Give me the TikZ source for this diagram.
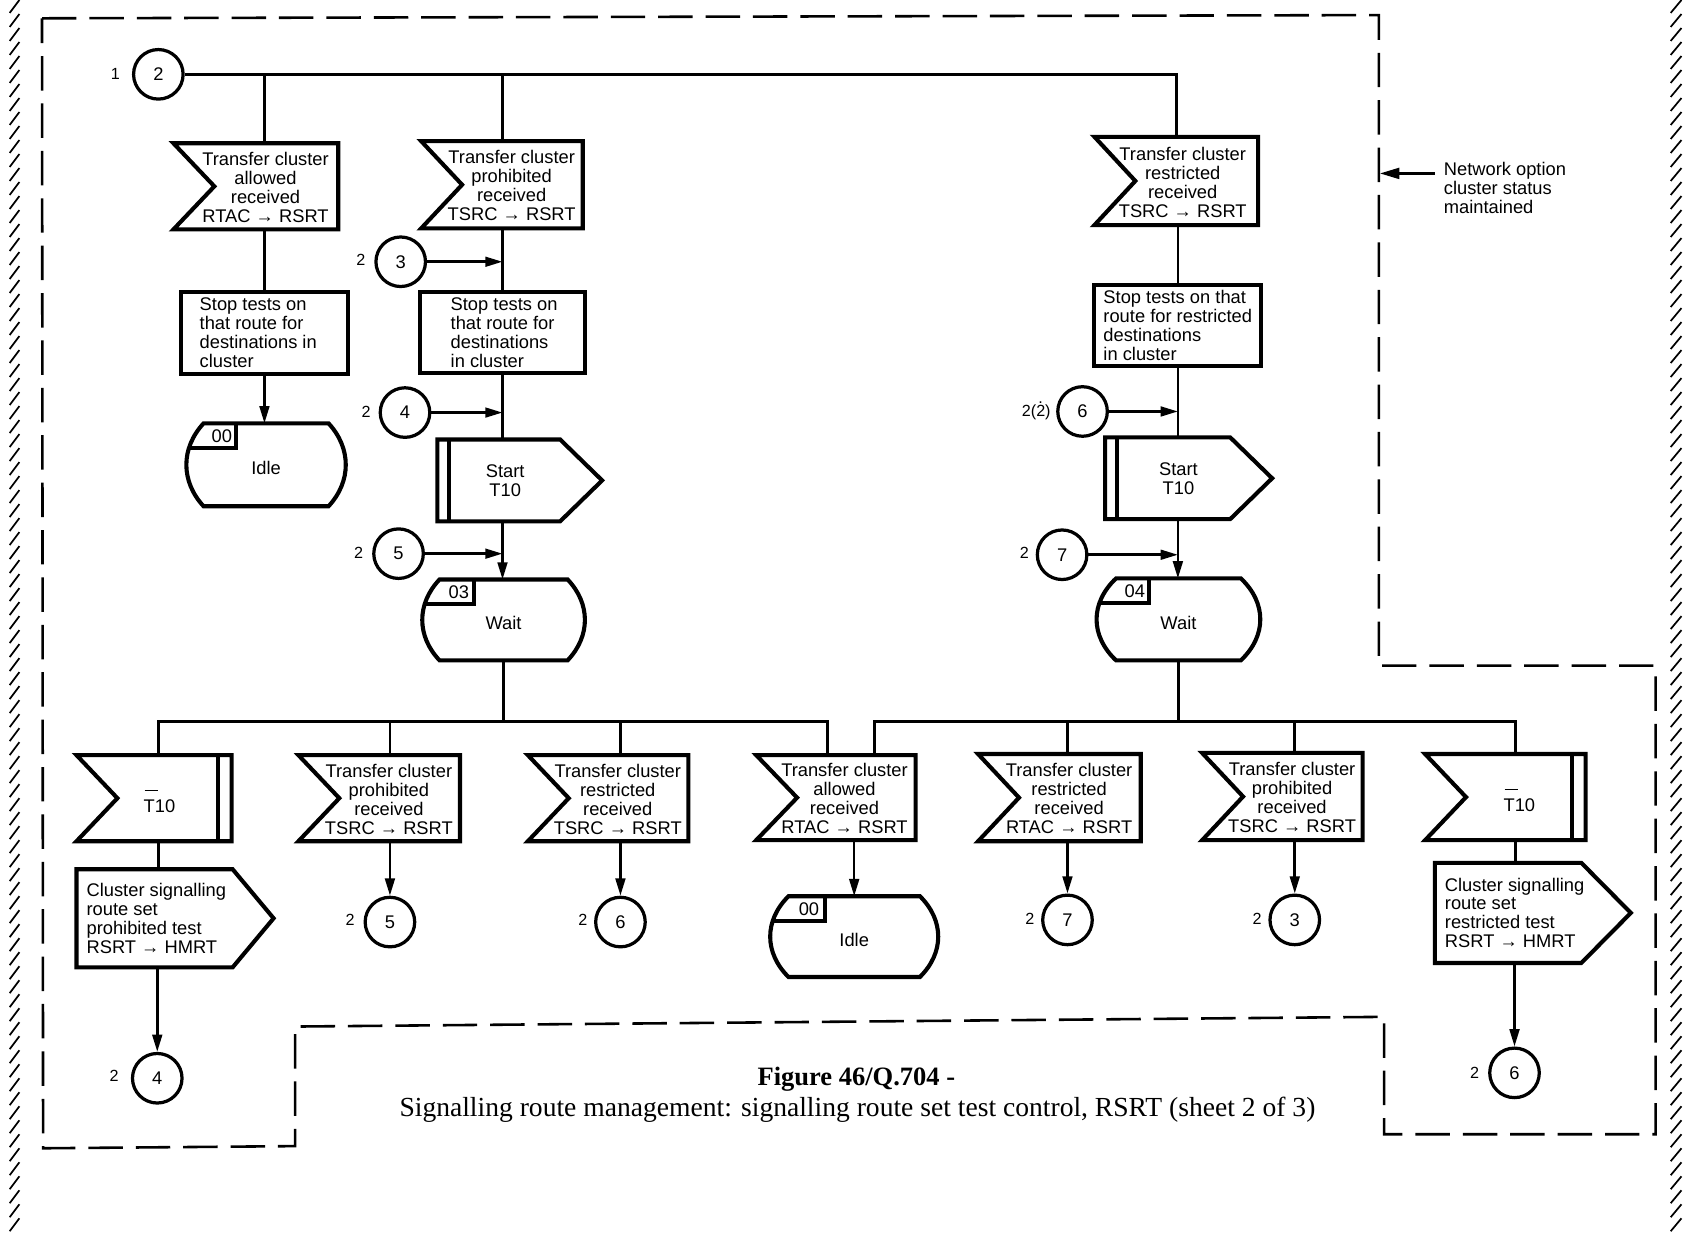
\documentclass[tikz,border=0pt]{standalone}
\usepackage{fontspec}
\setmainfont{Liberation Sans}
\newfontfamily\capfont{Liberation Serif}
\usetikzlibrary{calc,fit,arrows.meta}

\tikzset{
  shp/.style={line width=1.9pt, line join=miter},
  ln/.style={line width=1.2pt},
  arr/.style={line width=1.2pt, -{Triangle[length=8pt,width=4.5pt]}},
  box/.style={inner sep=0pt, outer sep=0pt, draw=none},
  txt/.style={font=\fontsize{8.5}{8.8}\selectfont, inner sep=0pt, align=center},
  txtl/.style={font=\fontsize{8.5}{8.8}\selectfont, inner sep=0pt, align=left, anchor=west},
  conn/.style={circle, draw, line width=1.5pt, minimum size=23pt, inner sep=0pt, font=\fontsize{8.5}{10}\selectfont},
  clbl/.style={font=\fontsize{7.5}{9}\selectfont, inner sep=0pt},
  bound/.style={line width=1.2pt, dash pattern=on 16pt off 6pt},
  hatch/.style={line width=0.8pt},
}

\newcommand{\tbar}{\rlap{\kern0.05em\raisebox{10pt}{\rule{0.75em}{0.7pt}}}}

% input signal: name x1 y1 x2 y2 textoffset text
\newcommand{\InSig}[7]{%
  \node[box, fit={(#2,#3) (#4,#5)}] (#1) {};
  \draw[shp] (#2,#3) -- (#4,#3) -- (#4,#5) -- (#2,#5) -- ($(#1.west)+(38,0)$) -- cycle;
  \node[txt] (#1-t) at ($(#1.center)+(#6,1)$) {#7};
}
% timer expiry input: name x1 y1 x2 y2 textoffset
\newcommand{\InTimer}[6]{%
  \node[box, fit={(#2,#3) (#4,#5)}] (#1) {};
  \draw[shp] (#2,#3) -- (#4,#3) -- (#4,#5) -- (#2,#5) -- ($(#1.west)+(38,0)$) -- cycle;
  \draw[shp] ({#4-13},#3) -- ({#4-13},#5);
  \node[txt] (#1-t) at ($(#1.center)+(#6,3)$) {\tbar T10};
}
% output signal: name x1 y1 x2 y2 pointx text
\newcommand{\OutSig}[7]{%
  \node[box, fit={(#2,#3) (#6,#5)}] (#1) {};
  \draw[shp] (#2,#3) -- (#4,#3) -- (#6,{(#3+#5)/2}) -- (#4,#5) -- (#2,#5) -- cycle;
  \node[txtl] (#1-t) at ({#2+9},{(#3+#5)/2}) {#7};
}
% timer start output: name x1 y1 x2 y2 pointx textx
\newcommand{\OutStart}[7]{%
  \node[box, fit={(#2,#3) (#6,#5)}] (#1) {};
  \draw[shp] (#2,#3) -- (#4,#3) -- (#6,{(#3+#5)/2}) -- (#4,#5) -- (#2,#5) -- cycle;
  \draw[shp] ({#2+11},#3) -- ({#2+11},#5);
  \node[txt] (#1-t) at (#7,{(#3+#5)/2}) {Start\\T10};
}
% task: name x1 y1 x2 y2 textx text
\newcommand{\TaskBox}[7]{%
  \node[box, fit={(#2,#3) (#4,#5)}] (#1) {};
  \draw[shp] (#2,#3) rectangle (#4,#5);
  \node[txtl] (#1-t) at (#6,{(#3+#5)/2}) {#7};
}
\newcommand{\StPath}[5]{(#1,#2) -- (#3,#2) .. controls ({#3+4*#5/3},{#2+0.3*(#4-#2)}) and ({#3+4*#5/3},{#4-0.3*(#4-#2)}) .. (#3,#4) -- (#1,#4) .. controls ({#1-4*#5/3},{#4-0.3*(#4-#2)}) and ({#1-4*#5/3},{#2+0.3*(#4-#2)}) .. (#1,#2) -- cycle}
% state: name x1 y1 x2 y2 bulge lblx lbl text
\newcommand{\StateBox}[9]{%
  \node[box, fit={({#2-#6},#3) ({#4+#6},#5)}] (#1) {};
  \begin{scope}
    \clip \StPath{#2}{#3}{#4}{#5}{#6};
    \draw[shp] (#7,#3) -- (#7,{#3+23}) -- ({#2-2*#6},{#3+23});
  \end{scope}
  \draw[shp] \StPath{#2}{#3}{#4}{#5}{#6};
  \node[txt] (#1-l) at ({(#2+#7)/2+2},{#3+12}) {#8};
  \node[txt] (#1-t) at ({(#2+#4)/2},{(#3+#5)/2+3}) {#9};
}

\begin{document}
\begin{tikzpicture}[x=0.5pt,y=-0.5pt]
\useasboundingbox (0,0) rectangle (1568,1145);

% page-edge hatching
\foreach \y in {0,13,...,1140} {
  \draw[hatch] (18,\y) -- (9,\y+12);
  \draw[hatch] (1561,\y) -- (1551,\y+12);
}

% dashed boundary
\draw[bound] (39,17) -- (1280,14) -- (1280,618) -- (1537,618) -- (1537,1053) -- (1285,1053) -- (1285,944) -- (274,953) -- (274,1064) -- (40,1066) -- cycle;

% note
\node[txtl, anchor=north west] (note) at (1340,150) {Network option\\cluster status\\maintained};
\coordinate (optTail) at (1332,161);
\coordinate (optHead) at (1281,161);
\draw[arr, -{Triangle[length=9pt,width=5pt]}] (optTail) -- (optHead);

% ---------- top part ----------
\node[conn] (c2top) at (147,69) {2};
\node[clbl] (c2topl) at (107,69) {1};

\InSig{inA}{161}{133}{314}{213}{9}{Transfer cluster\\allowed\\received\\RTAC → RSRT}
\InSig{inB}{391}{131}{541}{212}{9}{Transfer cluster\\prohibited\\received\\TSRC → RSRT}
\InSig{inC}{1016}{127}{1168}{209}{6}{Transfer cluster\\restricted\\received\\TSRC → RSRT}

\TaskBox{taskA}{168}{271}{323}{347}{185}{Stop tests on\\that route for\\destinations in\\cluster}
\TaskBox{taskB}{390}{271}{543}{346}{418}{Stop tests on\\that route for\\destinations\\in cluster}
\TaskBox{taskC}{1016}{265}{1171}{340}{1024}{Stop tests on that\\route for restricted\\destinations\\in cluster}

\StateBox{stateA}{189}{393}{305}{470}{16}{219}{00}{Idle}

\node[conn] (c3) at (372,243) {3};
\node[clbl] (c3l) at (335,241) {2};
\node[conn] (c4) at (376,383) {4};
\node[clbl] (c4l) at (340,382) {2};
\node[conn] (c5) at (370,514) {5};
\node[clbl] (c5l) at (333,513) {2};

\OutStart{outB}{406}{408}{520}{484}{559}{469}
\StateBox{stateB}{408}{538}{527}{613}{16}{440}{03}{Wait}

\node[conn] (c6t) at (1005,382) {6};
\node[clbl] (c6tl) at (962,381) {2(\rlap{\kern1pt\raisebox{6pt}{.}}2)};
\node[conn] (c7t) at (986,515) {7};
\node[clbl] (c7tl) at (951,513) {2};

\OutStart{outC}{1026}{406}{1142}{482}{1181}{1094}
\StateBox{stateC}{1036}{537}{1152}{613}{18}{1067}{04}{Wait}

% top connectors
\coordinate (busTR) at (inC.north |- c2top.east);
\draw[ln] (c2top.east) -- (busTR) -- (inC.north);
\draw[ln] (taskA.north |- c2top.east) -- (taskA.north |- inA.north);
\draw[ln] (taskA.north |- inA.south) -- (taskA.north);
\draw[arr] (taskA.south) -- (taskA.south |- stateA.north);

\draw[ln] (taskB.north |- c2top.east) -- (taskB.north |- inB.north);
\draw[ln] (taskB.north |- inB.south) -- (taskB.north);
\draw[arr] (c3.east) -- (c3.east -| taskB.north);
\draw[ln] (taskB.south) -- (taskB.south |- outB.north);
\draw[arr] (c4.east) -- (c4.east -| taskB.south);
\draw[arr] (taskB.south |- outB.south) -- (taskB.south |- stateB.north);
\draw[arr] (c5.east) -- (c5.east -| taskB.south);

\draw[ln] (taskC.north |- inC.south) -- (taskC.north);
\draw[ln] (taskC.south) -- (taskC.south |- outC.north);
\draw[arr] (c6t.east) -- (c6t.east -| taskC.south);
\draw[arr] (taskC.south |- outC.south) -- (taskC.south |- stateC.north);
\draw[arr] (c7t.east) -- (c7t.east -| taskC.south);

% ---------- bottom part ----------
\coordinate (dr1) at (147,670);
\coordinate (dr2) at (362,670);
\coordinate (dr3) at (576,670);
\coordinate (dr4) at (768,670);
\coordinate (dr5) at (812,670);
\coordinate (dr6) at (991,670);
\coordinate (dr7) at (1202,670);
\coordinate (dr8) at (1407,670);

\InTimer{I1}{71}{701}{215}{781}{5}
\InSig{I2}{277}{701}{427}{781}{9}{Transfer cluster\\prohibited\\received\\TSRC → RSRT}
\InSig{I3}{490}{701}{639}{781}{9}{Transfer cluster\\restricted\\received\\TSRC → RSRT}
\InSig{I4}{702}{701}{850}{780}{8}{Transfer cluster\\allowed\\received\\RTAC → RSRT}
\InSig{I5}{908}{700}{1059}{781}{9}{Transfer cluster\\restricted\\received\\RTAC → RSRT}
\InSig{I6}{1116}{699}{1265}{780}{9}{Transfer cluster\\prohibited\\received\\TSRC → RSRT}
\InTimer{I7}{1323}{700}{1472}{780}{13}

\OutSig{O1}{71}{807}{216}{898}{254}{Cluster signalling\\route set\\prohibited test\\RSRT → HMRT}
\OutSig{O7}{1332}{801}{1468}{894}{1514}{Cluster signalling\\route set\\restricted test\\RSRT → HMRT}

\node[conn] (c4b) at (146,1001) {4};
\node[clbl] (c4bl) at (106,999) {2};
\node[conn] (c5b) at (362,856) {5};
\node[clbl] (c5bl) at (325,854) {2};
\node[conn] (c6b) at (576,856) {6};
\node[clbl] (c6bl) at (541,854) {2};
\StateBox{stateD}{732}{832}{854}{907}{17}{766}{00}{Idle}
\node[conn] (c7b) at (991,854) {7};
\node[clbl] (c7bl) at (956,853) {2};
\node[conn] (c3b) at (1202,854) {3};
\node[clbl] (c3bl) at (1167,853) {2};
\node[conn] (c6bb) at (1406,996) {6};
\node[clbl] (c6bbl) at (1369,996) {2};

% bus lines
\draw[ln] (stateB.south) -- (stateB.south |- dr1);
\draw[ln] (stateC.south) -- (stateC.south |- dr5);
\draw[ln] (dr1 |- I1.north) -- (dr1) -- (dr4) -- (dr4 |- I4.north);
\draw[ln] (dr5 |- I4.north) -- (dr5) -- (dr8) -- (dr8 |- I7.north);
\draw[ln] (dr2) -- (dr2 |- I2.north);
\draw[ln] (dr3) -- (dr3 |- I3.north);
\draw[ln] (dr6) -- (dr6 |- I5.north);
\draw[ln] (dr7) -- (dr7 |- I6.north);

% drops below inputs
\draw[ln] (dr1 |- I1.south) -- (dr1 |- O1.north);
\draw[arr] (c4b.north |- O1.south) -- (c4b.north);
\draw[arr] (c5b.north |- I2.south) -- (c5b.north);
\draw[arr] (c6b.north |- I3.south) -- (c6b.north);
\draw[arr] (stateD.north |- I4.south) -- (stateD.north);
\draw[arr] (c7b.north |- I5.south) -- (c7b.north);
\draw[arr] (c3b.north |- I6.south) -- (c3b.north);
\draw[ln] (dr8 |- I7.south) -- (dr8 |- O7.north);
\draw[arr] (c6bb.north |- O7.south) -- (c6bb.north);

% caption
\node[font={\capfont\bfseries\fontsize{12.3}{14}\selectfont}, inner sep=0pt] (capA) at (795,1002) {Figure 46/Q.704 -};
\node[font={\capfont\fontsize{12.8}{14}\selectfont}, inner sep=0pt] (capB) at (796,1030) {Signalling route management: signalling route set test control, RSRT (sheet 2 of 3)};
\end{tikzpicture}
\end{document}
